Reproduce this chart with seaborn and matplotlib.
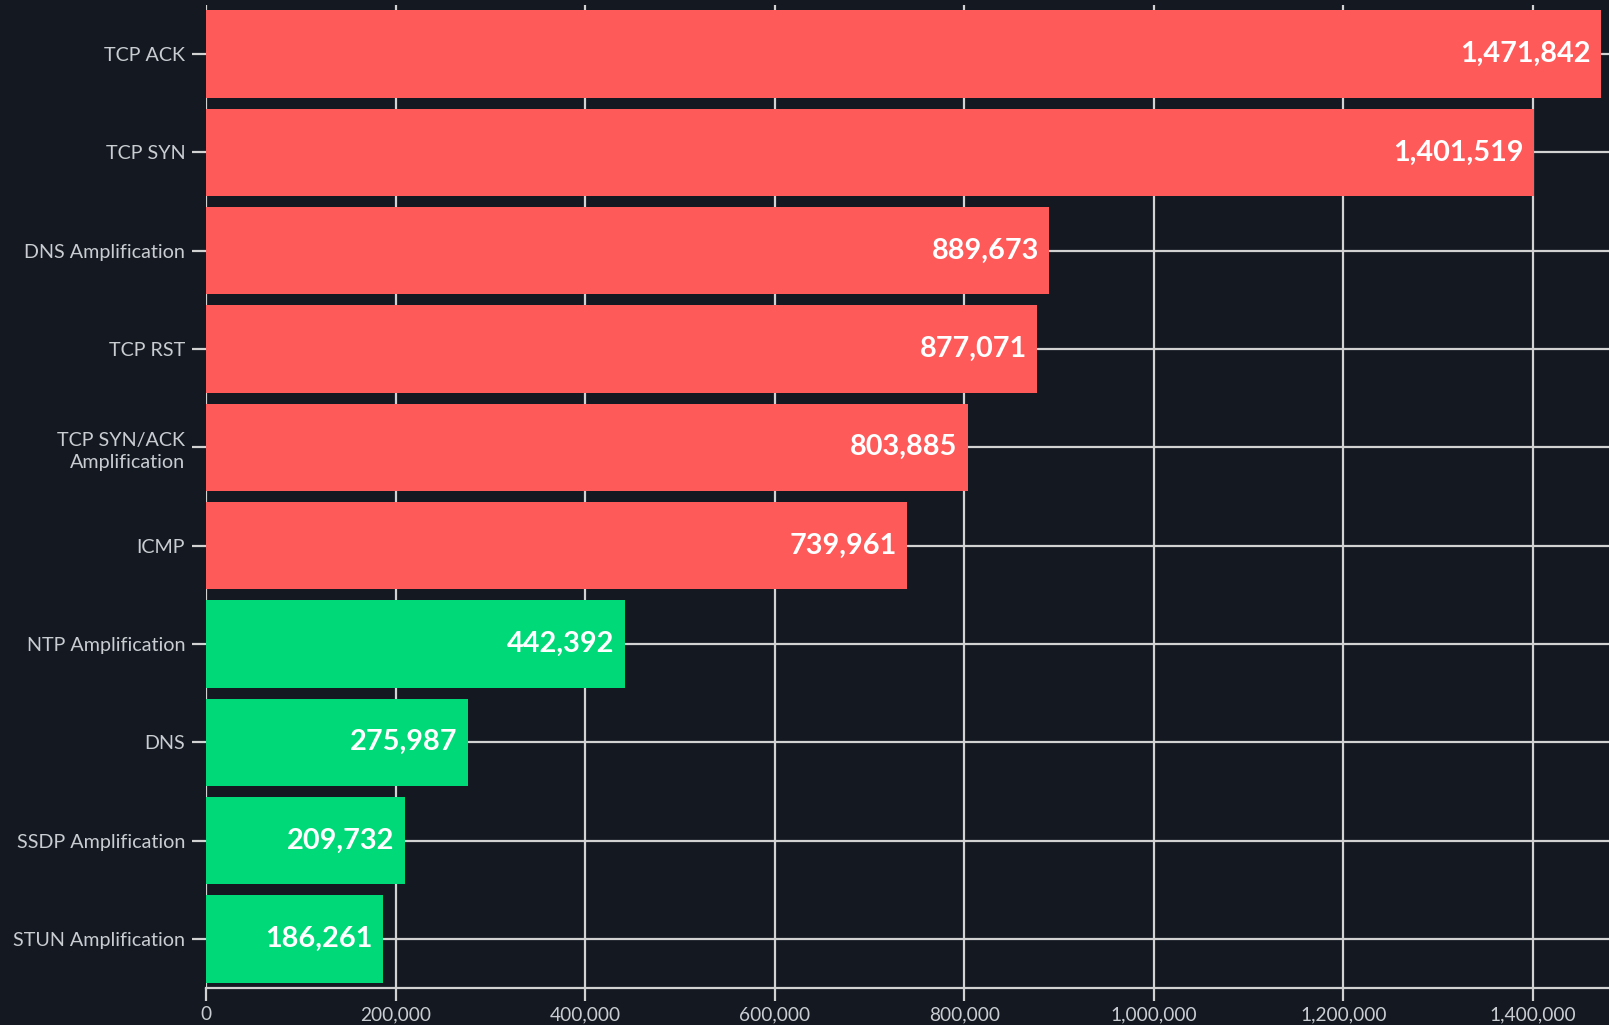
import matplotlib
matplotlib.use("Agg")
import matplotlib.pyplot as plt
import seaborn as sns
import pandas as pd
from matplotlib.ticker import FuncFormatter, MultipleLocator

categories = ["TCP ACK", "TCP SYN", "DNS Amplification", "TCP RST",
              "TCP SYN/ACK\nAmplification", "ICMP", "NTP Amplification",
              "DNS", "SSDP Amplification", "STUN Amplification"]
values = [1471842, 1401519, 889673, 877071, 803885, 739961,
          442392, 275987, 209732, 186261]
groups = ["high", "high", "high", "high", "high", "high",
          "low", "low", "low", "low"]

BG = "#131821"
GRID = "#d2d2d2"
TXT = "#c9ccd1"
palette = {"high": "#ff5a5a", "low": "#00d977"}

sns.set_theme(style="dark")
plt.rcParams["font.family"] = ["Lato", "DejaVu Sans"]

df = pd.DataFrame({"category": categories, "value": values, "group": groups})

fig = plt.figure(figsize=(16.09, 10.25), dpi=100, facecolor=BG)
ax = fig.add_axes([206 / 1609, 1 - 988 / 1025, 1 - 206 / 1609, (988 - 5) / 1025])
ax.set_facecolor(BG)

sns.barplot(data=df, y="category", x="value", hue="group", palette=palette,
            dodge=False, legend=False, width=0.89, orient="h",
            saturation=1, ax=ax, linewidth=0)

ax.set_xlim(0, 1480200)
ax.set_ylim(len(categories) - 0.5, -0.5)
ax.xaxis.set_major_locator(MultipleLocator(200000))
ax.xaxis.set_major_formatter(FuncFormatter(lambda v, p: f"{int(v):,}"))

ax.set_axisbelow(True)
ax.grid(True, color=GRID, linewidth=1.6)
for s in ["top", "right", "left"]:
    ax.spines[s].set_visible(False)
ax.spines["bottom"].set_color(GRID)
ax.spines["bottom"].set_linewidth(1.6)

ax.tick_params(axis="y", colors=GRID, length=10, width=1.6, pad=5,
               labelcolor=TXT, labelsize=14.2, left=True)
ax.tick_params(axis="x", colors=GRID, length=9, width=1.6, pad=4,
               labelcolor=TXT, labelsize=13.8, bottom=True)
for lbl in ax.get_yticklabels():
    lbl.set_horizontalalignment("right")
    lbl.set_multialignment("right")
    lbl.set_linespacing(1.35)

ax.set_xlabel("")
ax.set_ylabel("")

for i, v in enumerate(values):
    ax.annotate(f"{v:,}", xy=(v, i), xytext=(-7.5, 0), textcoords="offset points",
                ha="right", va="center", color="white", fontsize=20.8,
                fontweight="bold")

fig.savefig("out.png", dpi=100, facecolor=BG)
